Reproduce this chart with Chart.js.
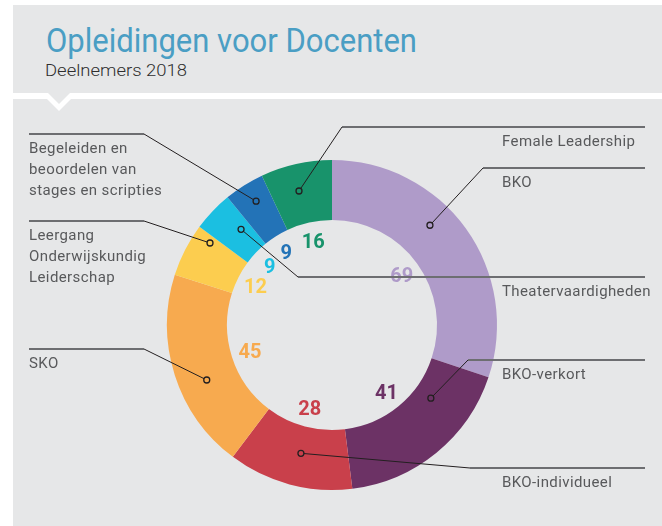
<!DOCTYPE html>
<html>
<head>
<meta charset="utf-8">
<script src="https://cdn.jsdelivr.net/npm/chart.js@4.4.0/dist/chart.umd.min.js"></script>
<style>
  body { margin: 0; width: 662px; height: 526px; overflow: hidden; position: relative; background: #fff; font-family: Roboto, sans-serif; }
  .panel { position: absolute; background: #e6e7e8; }
  .tri { position: absolute; }
  .fit { position: absolute; white-space: nowrap; transform-origin: 0 0; line-height: 1; }
  #title { left: 46px; top: 24px; font-size: 33px; color: #4a9ec4; }
  #subtitle { left: 45px; top: 62px; font-size: 17px; font-weight: 300; color: #2e2e2e; }
  #chart { position: absolute; left: 0; top: 0; }
</style>
</head>
<body>
<div class="panel" style="left:13px;top:5px;width:649px;height:88px"></div>
<div class="panel" style="left:13px;top:99px;width:649px;height:427px"></div>
<div class="tri" style="left:41px;top:93px;width:36px;height:18px;background:#fff;clip-path:polygon(0 0,100% 0,50% 100%)"></div>
<div class="tri" style="left:48px;top:93px;width:22px;height:11px;background:#e6e7e8;clip-path:polygon(0 0,100% 0,50% 100%)"></div>
<div class="fit" id="title" data-w="371">Opleidingen voor Docenten</div>
<div class="fit" id="subtitle" data-w="142">Deelnemers 2018</div>
<canvas id="chart" width="662" height="526"></canvas>
<script>
// clockwise from the top
const categories = [
  'BKO',
  'BKO-verkort',
  'BKO-individueel',
  'SKO',
  'Leergang\nOnderwijskundig\nLeiderschap',
  'Theatervaardigheden',
  'Begeleiden en\nbeoordelen van\nstages en scripties',
  'Female Leadership',
];
const participants = [69, 41, 28, 45, 12, 9, 9, 16];
const sliceColors = ['#af9bc9', '#6c3265', '#c9404b', '#f7aa4f', '#fccd4f', '#1bbfe1', '#2373b7', '#18936b'];

// where each callout sits: its horizontal rule and where the leader meets the slice
const calloutLayout = [
  { side: 'right', lineY: 168, joinX: 483, at: 0.41, depth: 0.58 },
  { side: 'right', lineY: 360, joinX: 468, at: 0.28, depth: 0.3 },
  { side: 'right', lineY: 468, joinX: 470, at: 0.47, depth: 0.45 },
  { side: 'left', lineY: 349, joinX: 144, at: 0.415, depth: 0.53 },
  { side: 'left', lineY: 221, joinX: 144, at: 0.86, depth: 0.7 },
  { side: 'right', lineY: 277, joinX: 298, at: 0.7, depth: 0.45 },
  { side: 'left', lineY: 134, joinX: 144, at: 0.55, depth: 0.67 },
  { side: 'right', lineY: 127, joinX: 342, at: 0.45, depth: 0.55 },
];

document.querySelectorAll('.fit').forEach((el) => {
  const w = el.getBoundingClientRect().width;
  el.style.transform = `scaleX(${el.dataset.w / w})`;
});

const calloutPlugin = {
  id: 'callouts',
  afterDatasetsDraw(chart) {
    const ctx = chart.ctx;
    const arcs = chart.getDatasetMeta(0).data;
    ctx.save();

    // values inside the hole
    ctx.font = 'bold 20px Roboto';
    ctx.textAlign = 'center';
    ctx.textBaseline = 'alphabetic';
    arcs.forEach((arc, i) => {
      const p = arc.getProps(['x', 'y', 'startAngle', 'endAngle', 'innerRadius'], true);
      const mid = (p.startAngle + p.endAngle) / 2;
      const r = p.innerRadius - 19;
      ctx.fillStyle = sliceColors[i];
      ctx.fillText(String(participants[i]), p.x + r * Math.cos(mid), p.y + r * Math.sin(mid) + 7);
    });

    // leaders + labels
    ctx.font = '15px Roboto';
    ctx.textAlign = 'left';
    ctx.letterSpacing = '0.4px';
    arcs.forEach((arc, i) => {
      const c = calloutLayout[i];
      const p = arc.getProps(['x', 'y', 'startAngle', 'endAngle', 'innerRadius', 'outerRadius'], true);
      const a = p.startAngle + c.at * (p.endAngle - p.startAngle);
      const r = p.innerRadius + c.depth * (p.outerRadius - p.innerRadius);
      const dx = p.x + r * Math.cos(a);
      const dy = p.y + r * Math.sin(a);

      const x0 = c.side === 'left' ? 29 : c.joinX;
      const x1 = c.side === 'left' ? c.joinX : 645;
      ctx.strokeStyle = '#6d6e71';
      ctx.lineWidth = 2;
      ctx.beginPath();
      ctx.moveTo(x0, c.lineY);
      ctx.lineTo(x1, c.lineY);
      ctx.stroke();

      ctx.strokeStyle = '#231f20';
      ctx.lineWidth = 1;
      const ang = Math.atan2(c.lineY - dy, c.joinX - dx);
      ctx.beginPath();
      ctx.moveTo(dx + 3 * Math.cos(ang), dy + 3 * Math.sin(ang));
      ctx.lineTo(c.joinX, c.lineY);
      ctx.stroke();

      ctx.lineWidth = 1.3;
      ctx.beginPath();
      ctx.arc(dx, dy, 3, 0, Math.PI * 2);
      ctx.stroke();

      ctx.fillStyle = '#58595b';
      const tx = c.side === 'left' ? 29 : 502;
      categories[i].split('\n').forEach((line, k) => {
        ctx.fillText(line, tx, c.lineY + 19 + k * 21);
      });
    });
    ctx.restore();
  },
};

new Chart(document.getElementById('chart'), {
  type: 'doughnut',
  data: {
    labels: categories,
    datasets: [{
      data: participants,
      backgroundColor: sliceColors,
      borderWidth: 0,
    }],
  },
  options: {
    responsive: false,
    animation: false,
    cutout: 105,
    layout: { padding: { left: 167, right: 165, top: 160, bottom: 36 } },
    plugins: {
      legend: { display: false },
      tooltip: { enabled: false },
    },
  },
  plugins: [calloutPlugin],
});
</script>
</body>
</html>
